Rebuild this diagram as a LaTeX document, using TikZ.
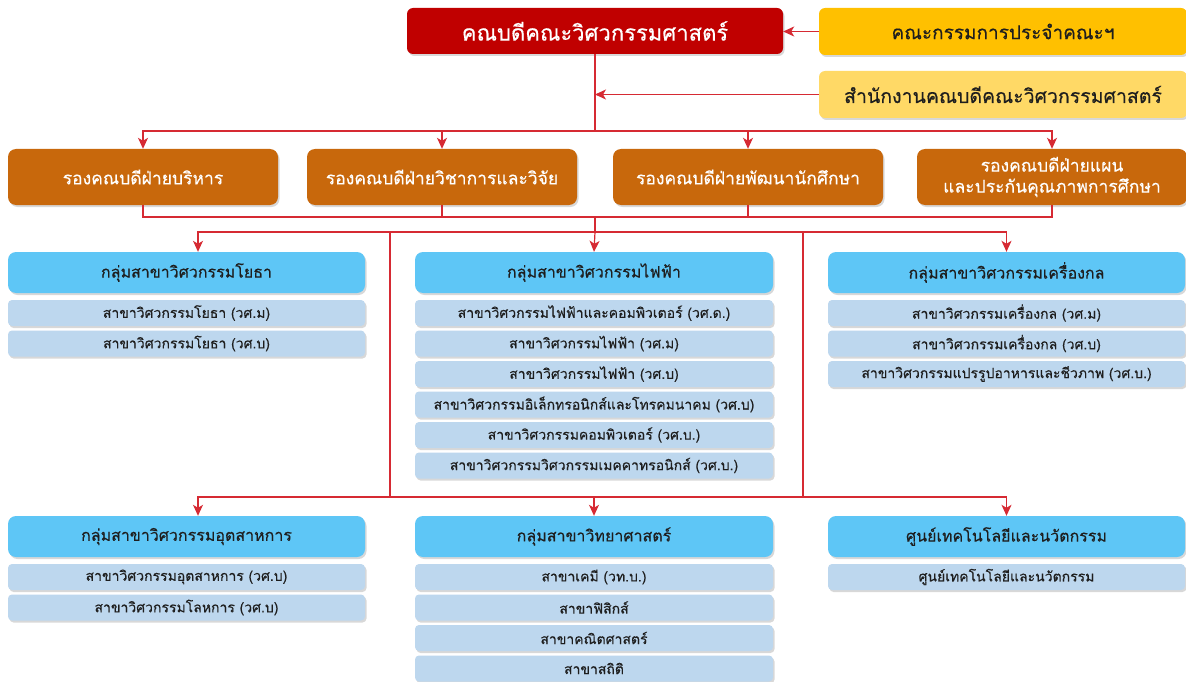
\documentclass[tikz,border=0pt]{standalone}
\usepackage{fontspec}
\setmainfont[Script=Thai,FakeBold=0.4]{Loma}
\usetikzlibrary{arrows.meta,shadows}

\definecolor{DeanRed}{HTML}{C00000}
\definecolor{BoardGold}{HTML}{FFC000}
\definecolor{OfficeGold}{HTML}{FFD966}
\definecolor{ViceOrange}{HTML}{C8680C}
\definecolor{GroupBlue}{HTML}{5EC6F6}
\definecolor{BranchBlue}{HTML}{BDD7EE}
\definecolor{LinkRed}{HTML}{D62A33}
\definecolor{InkDark}{HTML}{1E1E1E}

\tikzstyle{box}=[rounded corners=6pt, inner sep=0pt, drop shadow={shadow xshift=1.5pt, shadow yshift=-2pt, opacity=0.3}]
\tikzstyle{dean-box}=[box, fill=DeanRed, text=white, minimum width=376pt, minimum height=46pt, font=\fontsize{22}{26}\selectfont]
\tikzstyle{board-box}=[box, fill=BoardGold, text=InkDark, minimum width=368pt, minimum height=47pt, font=\fontsize{19}{23}\selectfont]
\tikzstyle{office-box}=[box, fill=OfficeGold, text=InkDark, minimum width=368pt, minimum height=47pt, font=\fontsize{19.5}{23}\selectfont]
\tikzstyle{vice-box}=[box, rounded corners=8pt, fill=ViceOrange, text=white, minimum width=270pt, minimum height=56pt, align=center, font=\fontsize{17.5}{21}\selectfont]
\tikzstyle{group-box}=[box, rounded corners=8pt, fill=GroupBlue, text=InkDark, minimum width=357pt, minimum height=41pt, font=\fontsize{16}{20}\selectfont]
\tikzstyle{branch-box}=[box, rounded corners=4pt, fill=BranchBlue, text=InkDark, minimum width=357pt, minimum height=26pt, font=\fontsize{14}{17}\selectfont]
\tikzstyle{link}=[draw=LinkRed, line width=1.2pt]
\tikzstyle{link-arrow}=[link, -{Stealth[length=11pt,width=10pt,inset=3pt]}]

\begin{document}
\begin{tikzpicture}[x=1pt, y=-1pt]
      \useasboundingbox (0,0) rectangle (1186,682);
      \fill[white] (0,0) rectangle (1186,682);
      \clip (0,0) rectangle (1186,682);

      \node (dean) at (595,31) [dean-box] {คณบดีคณะวิศวกรรมศาสตร์};
      \node (board) at (1003,31.5) [board-box] {คณะกรรมการประจำคณะฯ};
      \node (office) at (1003,94.5) [office-box] {สำนักงานคณบดีคณะวิศวกรรมศาสตร์};
      \coordinate (hub) at (595,131);

      \node (vp-admin) at (143,177) [vice-box] {รองคณบดีฝ่ายบริหาร};
      \node (vp-acad) at (442,177) [vice-box] {รองคณบดีฝ่ายวิชาการและวิจัย};
      \node (vp-student) at (748,177) [vice-box] {รองคณบดีฝ่ายพัฒนานักศึกษา};
      \node (vp-plan) at (1052,177) [vice-box] {รองคณบดีฝ่ายแผน\\และประกันคุณภาพการศึกษา};
      \coordinate (merge) at (595,217);
      \coordinate (split) at (595,232);
      \coordinate (tap-l) at (390,232);
      \coordinate (tap-r) at (803,232);
      \coordinate (base-l) at (390,497);
      \coordinate (base-r) at (803,497);

      \node (grp-civil) at (186.5,272.5) [group-box] {กลุ่มสาขาวิศวกรรมโยธา};
      \node (civil-1) at (186.5,313) [branch-box] {สาขาวิศวกรรมโยธา (วศ.ม)};
      \node (civil-2) at (186.5,343.5) [branch-box] {สาขาวิศวกรรมโยธา (วศ.บ)};

      \node (grp-elec) at (594,272.5) [group-box, minimum width=358pt] {กลุ่มสาขาวิศวกรรมไฟฟ้า};
      \node (elec-1) at (594,313) [branch-box, minimum width=358pt] {สาขาวิศวกรรมไฟฟ้าและคอมพิวเตอร์ (วศ.ด.)};
      \node (elec-2) at (594,343.5) [branch-box, minimum width=358pt] {สาขาวิศวกรรมไฟฟ้า (วศ.ม)};
      \node (elec-3) at (594,374) [branch-box, minimum width=358pt] {สาขาวิศวกรรมไฟฟ้า (วศ.บ)};
      \node (elec-4) at (594,404.5) [branch-box, minimum width=358pt] {สาขาวิศวกรรมอิเล็กทรอนิกส์และโทรคมนาคม (วศ.บ)};
      \node (elec-5) at (594,435) [branch-box, minimum width=358pt] {สาขาวิศวกรรมคอมพิวเตอร์ (วศ.บ.)};
      \node (elec-6) at (594,465.5) [branch-box, minimum width=358pt] {สาขาวิศวกรรมวิศวกรรมเมคคาทรอนิกส์ (วศ.บ.)};

      \node (grp-mech) at (1006.5,272.5) [group-box] {กลุ่มสาขาวิศวกรรมเครื่องกล};
      \node (mech-1) at (1006.5,313) [branch-box] {สาขาวิศวกรรมเครื่องกล (วศ.ม)};
      \node (mech-2) at (1006.5,343.5) [branch-box] {สาขาวิศวกรรมเครื่องกล (วศ.บ)};
      \node (mech-3) at (1006.5,374) [branch-box] {สาขาวิศวกรรมแปรรูปอาหารและชีวภาพ (วศ.บ.)};

      \node (grp-ind) at (186.5,536.5) [group-box] {กลุ่มสาขาวิศวกรรมอุตสาหการ};
      \node (ind-1) at (186.5,577) [branch-box] {สาขาวิศวกรรมอุตสาหการ (วศ.บ)};
      \node (ind-2) at (186.5,607.5) [branch-box] {สาขาวิศวกรรมโลหการ (วศ.บ)};

      \node (grp-sci) at (594,536.5) [group-box, minimum width=358pt] {กลุ่มสาขาวิทยาศาสตร์};
      \node (sci-1) at (594,577) [branch-box, minimum width=358pt] {สาขาเคมี (วท.บ.)};
      \node (sci-2) at (594,607.5) [branch-box, minimum width=358pt] {สาขาฟิสิกส์};
      \node (sci-3) at (594,638) [branch-box, minimum width=358pt] {สาขาคณิตศาสตร์};
      \node (sci-4) at (594,668.5) [branch-box, minimum width=358pt] {สาขาสถิติ};

      \node (grp-tech) at (1006.5,536.5) [group-box] {ศูนย์เทคโนโลยีและนวัตกรรม};
      \node (tech-1) at (1006.5,577) [branch-box] {ศูนย์เทคโนโลยีและนวัตกรรม};

      \draw[link-arrow] (board.west) -- (board.west -| dean.east);
      \draw[link] (dean.south) -- (hub);
      \draw[link-arrow] (office.west) -- (office.west -| hub);
      \draw[link-arrow] (hub) -| (vp-admin);
      \draw[link-arrow] (hub) -| (vp-acad);
      \draw[link-arrow] (hub) -| (vp-student);
      \draw[link-arrow] (hub) -| (vp-plan);

      \draw[link] (vp-admin.south) |- (merge);
      \draw[link] (vp-plan.south) |- (merge);
      \draw[link] (vp-acad.south) -- (vp-acad.south |- merge);
      \draw[link] (vp-student.south) -- (vp-student.south |- merge);
      \draw[link] (merge) -- (split);

      \draw[link-arrow] (split) -| ([xshift=11.5pt]grp-civil.north);
      \draw[link-arrow] (split) -| (grp-mech.north);
      \draw[link-arrow] (split) -- (grp-elec.north);
      \draw[link] (tap-l) -- (base-l);
      \draw[link] (tap-r) -- (base-r);
      \draw[link] (base-l) -- (base-r);
      \draw[link-arrow] (base-l) -| ([xshift=11.5pt]grp-ind.north);
      \draw[link-arrow] (base-r) -| (grp-tech.north);
      \draw[link-arrow] (grp-sci.north |- base-l) -- (grp-sci.north);
    \end{tikzpicture}
\end{document}
